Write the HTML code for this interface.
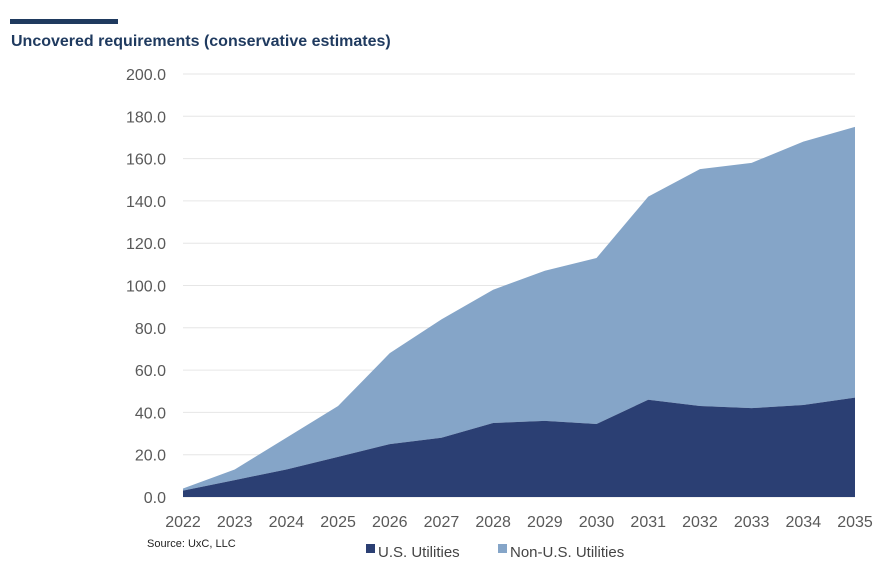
<!DOCTYPE html>
<html><head><meta charset="utf-8"><style>
body{margin:0;background:#fff;font-family:"Liberation Sans",sans-serif;}
#wrap{position:relative;width:884px;height:568px;overflow:hidden;}
</style></head><body>
<div id="wrap">
<svg id="svg" width="884" height="568" xmlns="http://www.w3.org/2000/svg">
<rect x="10" y="19" width="108" height="5" fill="#1f3a5f"/>
<text x="11" y="46" font-size="16" font-weight="bold" fill="#1f3a5f">Uncovered requirements (conservative estimates)</text>
<g id="grid"></g><g id="areas"></g><g id="yticks"></g><g id="xticks"></g>
<text x="147" y="547" font-size="11" fill="#222">Source: UxC, LLC</text>
<rect x="366" y="544" width="9" height="9" fill="#2b3f73"/>
<text x="378" y="557" font-size="15" fill="#444">U.S. Utilities</text>
<rect x="498" y="544" width="9" height="9" fill="#85a5c8"/>
<text x="510" y="557" font-size="15" fill="#444">Non-U.S. Utilities</text>
</svg>
</div>
<script>
const years=["2022","2023","2024","2025","2026","2027","2028","2029","2030","2031","2032","2033","2034","2035"];
const usUtilities=[3,8,13,19,25,28,35,36,34.5,46,43,42,43.5,47];
const nonUsUtilities=[1,5,15,24,43,56,63,71,78.5,96,112,116,124.5,128];
const yTicks=[0,20,40,60,80,100,120,140,160,180,200];
const NS="http://www.w3.org/2000/svg";
const x0=183,x1=855,y0=497,y1=74;
function xs(i){return x0+(x1-x0)*i/(years.length-1);}
function ys(v){return y0-(y0-y1)*v/200;}
function mk(t,a,p){const e=document.createElementNS(NS,t);for(const k in a)e.setAttribute(k,a[k]);p.appendChild(e);return e;}
const grid=document.getElementById('grid'),yt=document.getElementById('yticks'),xt=document.getElementById('xticks'),ar=document.getElementById('areas');
yTicks.forEach(v=>{
 const l=mk('line',{x1:x0,x2:x1,y1:ys(v),y2:ys(v),stroke:'#e6e6e6','stroke-width':1},grid);
 
 
 const t=mk('text',{x:166,y:ys(v)+6,'font-size':16,fill:'#595959','text-anchor':'end'},yt);
 t.textContent=v.toFixed(1);
 
 
});
years.forEach((y,i)=>{
 const t=mk('text',{x:xs(i),y:527,'font-size':16,fill:'#595959','text-anchor':'middle'},xt);
 t.textContent=y;
 
 
});
const upperPts=[],lowerPts=[];
years.forEach((y,i)=>{upperPts.push(xs(i)+','+ys(usUtilities[i]+nonUsUtilities[i]));lowerPts.push(xs(i)+','+ys(usUtilities[i]));});
const pNon=mk('polygon',{points:upperPts.join(' ')+' '+lowerPts.slice().reverse().join(' '),fill:'#85a5c8'},ar);


const pUs=mk('polygon',{points:xs(0)+','+y0+' '+lowerPts.join(' ')+' '+xs(years.length-1)+','+y0,fill:'#2b3f73'},ar);


</script>
</body></html>
